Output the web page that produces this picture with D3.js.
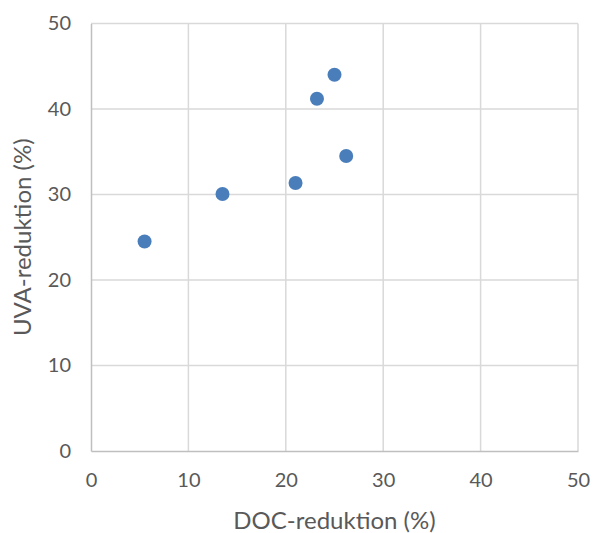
<!DOCTYPE html>
<html>
<head>
<meta charset="utf-8">
<script src="https://cdn.jsdelivr.net/npm/d3@7"></script>
<style>
  body { margin: 0; background: #fff; }
  text { font-family: Lato, "Open Sans", sans-serif; fill: #595959; }
</style>
</head>
<body>
<div id="chart"></div>
<script>
// DOC / UVA reduction (%) per sample
const docReduction = [5.5, 13.5, 21.0, 23.2, 25.0, 26.2]
const uvaReduction = [24.5, 30.05, 31.35, 41.2, 44.0, 34.5]
const xTicks = [0, 10, 20, 30, 40, 50]
const yTicks = [0, 10, 20, 30, 40, 50]

const W = 593, H = 533
const m = { top: 23.5, right: 15, bottom: 82, left: 91 } // plot box 91..578 / 23.5..451

const svg = d3.select('#chart').append('svg')
    .attr('width', W)
    .attr('height', H)

const x = d3.scaleLinear().domain([0, 50]).range([m.left, W - m.right])
const y = d3.scaleLinear().domain([0, 50]).range([H - m.bottom, m.top])

// gridlines
svg.append('g')
    .selectAll('line.vg')
    .data(xTicks.slice(1))
    .enter().append('line')
    .attr('x1', d => x(d)).attr('x2', d => x(d))
    .attr('y1', y(0)).attr('y2', y(50))
    .style('stroke', '#d9d9d9').style('stroke-width', 1.5)

svg.append('g')
    .selectAll('line.hg')
    .data(yTicks.slice(1))
    .enter().append('line')
    .attr('x1', x(0)).attr('x2', x(50))
    .attr('y1', d => y(d)).attr('y2', d => y(d))
    .style('stroke', '#d9d9d9').style('stroke-width', 1.5)

// axes (no tick marks, labels only)
const xAxis = svg.append('g')
    .attr('transform', `translate(0,${y(0)})`)
    .call(d3.axisBottom(x).tickValues(xTicks).tickSize(0).tickPadding(22))
xAxis.select('.domain').style('stroke', '#bfbfbf').style('stroke-width', 1.5)
xAxis.selectAll('text').style('font-size', '20px').style('fill', '#595959')

const yAxis = svg.append('g')
    .attr('transform', `translate(${x(0)},0)`)
    .call(d3.axisLeft(y).tickValues(yTicks).tickSize(0).tickPadding(20))
yAxis.select('.domain').style('stroke', '#bfbfbf').style('stroke-width', 1.5)
yAxis.selectAll('text').style('font-size', '20px').style('fill', '#595959')
svg.selectAll('.tick text').attr('font-family', null)

// points
svg.append('g')
    .selectAll('circle')
    .data(docReduction.map((d, i) => [d, uvaReduction[i]]))
    .enter().append('circle')
    .attr('cx', d => x(d[0]))
    .attr('cy', d => y(d[1]))
    .attr('r', 7)
    .style('fill', '#4a7ebb')

// axis titles
svg.append('text')
    .attr('x', (x(0) + x(50)) / 2)
    .attr('y', 529)
    .attr('text-anchor', 'middle')
    .style('font-size', '24px')
    .text('DOC-reduktion (%)')

svg.append('text')
    .attr('transform', `translate(31,${(y(0) + y(50)) / 2}) rotate(-90)`)
    .attr('text-anchor', 'middle')
    .style('font-size', '24px')
    .text('UVA-reduktion (%)')
</script>
</body>
</html>
